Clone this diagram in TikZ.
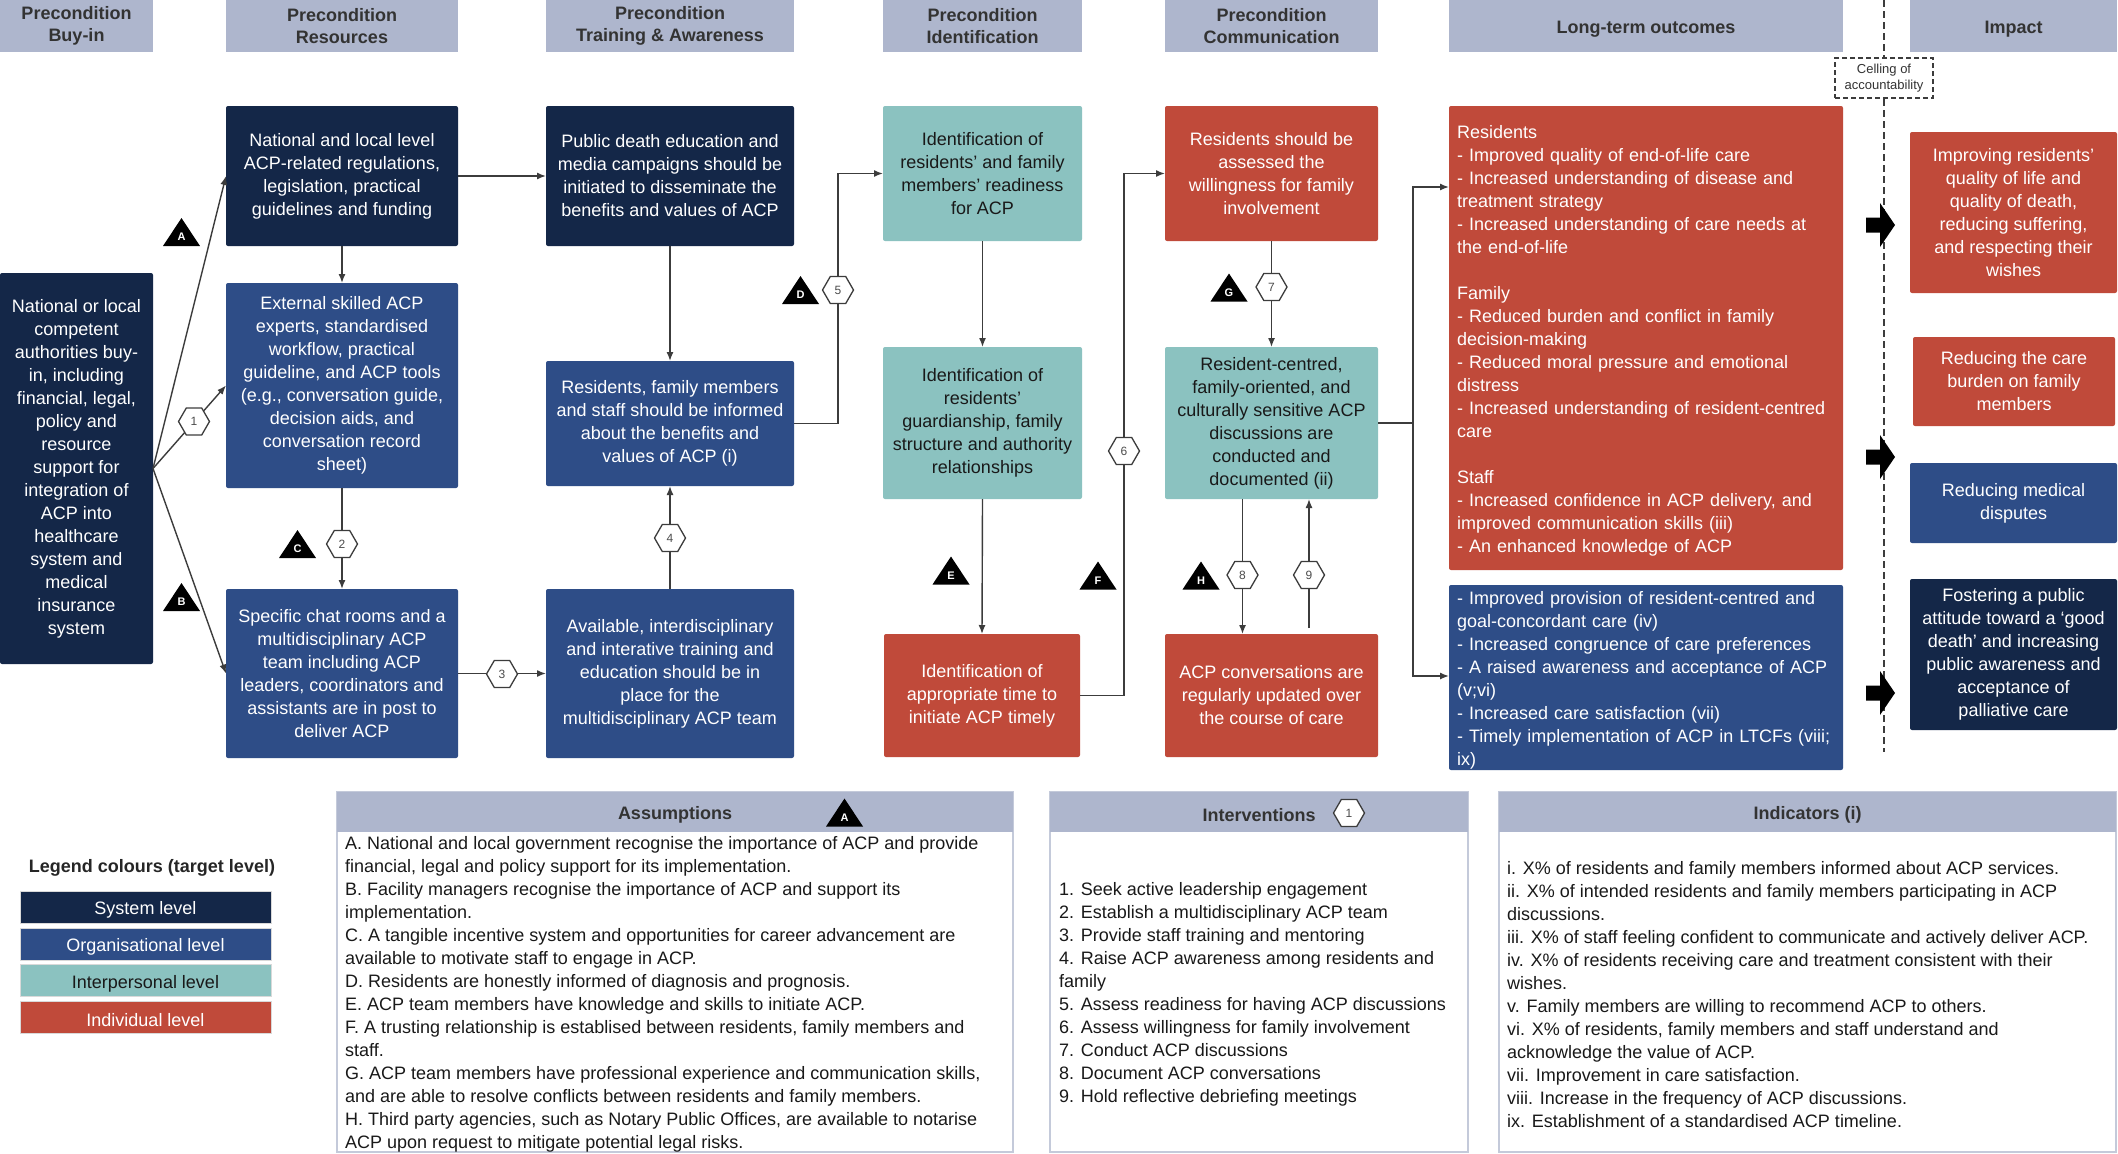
\documentclass[tikz,border=0pt]{standalone}
\usepackage{fontspec}
\setmainfont{Liberation Sans}
\usetikzlibrary{shapes.geometric,arrows.meta}
\definecolor{navy}{RGB}{20,39,72}
\definecolor{orgb}{RGB}{46,77,135}
\definecolor{tealb}{RGB}{139,194,192}
\definecolor{redb}{RGB}{192,74,58}
\definecolor{hdr}{RGB}{174,182,205}
\definecolor{lnc}{RGB}{60,60,60}
\definecolor{pnl}{RGB}{196,202,218}
\tikzset{
  wh/.style 2 args={minimum width=#1pt, minimum height=#2pt},
  txt/.style={font=\fontsize{18}{23}\selectfont},
  lowered/.style={execute at begin node={\rule{0pt}{19.5pt}}},
  basebox/.style={txt, inner sep=0pt, outer sep=0pt, align=center, rounded corners=2pt, lowered},
  sysbox/.style={basebox, fill=navy, text=white},
  orgbox/.style={basebox, fill=orgb, text=white},
  intbox/.style={basebox, fill=tealb, text=black!90},
  indbox/.style={basebox, fill=redb, text=white},
  hdrbox/.style={inner sep=0pt, outer sep=0pt, align=center, fill=hdr, text=black!80, font=\fontsize{18}{22.5}\selectfont\bfseries, lowered},
  arr/.style={draw=lnc, line width=1.4pt, -{Latex[length=9pt,width=7pt]}},
  hexn/.style={regular polygon, regular polygon sides=6, minimum size=31pt, inner sep=0pt, draw=lnc, line width=1.3pt, fill=white, text=black!70, font=\fontsize{12}{12}\selectfont},
  tri/.pic={\fill[black] (-18.5,14) -- (18.5,14) -- (0,-14) -- cycle;
            \node[inner sep=0pt, text=white, font=\fontsize{11}{11}\selectfont\bfseries] at (0,5) {#1};},
  blockarrow/.pic={\fill[black] (0,-7.5) -- (14,-7.5) -- (14,-22) -- (29,0) -- (14,22) -- (14,7.5) -- (0,7.5) -- cycle;},
  panel/.style={draw=pnl, line width=1.5pt, inner sep=0pt},
  ptext/.style={txt, inner sep=0pt, align=left, anchor=west, text=black!90},
}
\begin{document}
\begin{tikzpicture}[x=1pt,y=-1pt]
\fill[white] (0,0) rectangle (2118,1154);
\useasboundingbox (0,0) rectangle (2118,1154);

% headers
\node[hdrbox, wh={153}{52}] (hbuy) at (76.5,26) {Precondition\\Buy-in};
\node[hdrbox, wh={232}{52}] (hres) at (342,26) {Precondition\\Resources};
\node[hdrbox, wh={248}{52}] (htra) at (670,26) {Precondition\\Training \& Awareness};
\node[hdrbox, wh={199}{52}] (hide) at (982.5,26) {Precondition\\Identification};
\node[hdrbox, wh={213}{52}] (hcom) at (1271.5,26) {Precondition\\Communication};
\node[hdrbox, wh={394}{52}] (hlt) at (1646,26) {Long-term outcomes};
\node[hdrbox, wh={207}{52}] (himp) at (2013.5,26) {Impact};

% dashed ceiling line
\draw[lnc, line width=1.2pt, dash pattern=on 7pt off 4pt] (1884,0) -- (1884,752);
\node[draw=lnc, dash pattern=on 5pt off 3pt, line width=1.2pt, fill=white, wh={98}{40}, inner sep=0pt, align=center, font=\fontsize{13}{15.5}\selectfont, text=black!80] (ceil) at (1884,78) {Celling of\\accountability};

% boxes
\node[sysbox, wh={153}{391}] (buy) at (76.5,468.5) {National or local\\competent\\authorities buy-\\in, including\\financial, legal,\\policy and\\resource\\support for\\integration of\\ACP into\\healthcare\\system and\\medical\\insurance\\system};
\node[sysbox, wh={232}{140}] (r1) at (342,176) {National and local level\\ACP-related regulations,\\legislation, practical\\guidelines and funding};
\node[orgbox, wh={232}{205}] (r2) at (342,385.5) {External skilled ACP\\experts, standardised\\workflow, practical\\guideline, and ACP tools\\(e.g., conversation guide,\\decision aids, and\\conversation record\\sheet)};
\node[orgbox, wh={232}{169}] (r3) at (342,673.5) {Specific chat rooms and a\\multidisciplinary ACP\\team including ACP\\leaders, coordinators and\\assistants are in post to\\deliver ACP};
\node[sysbox, wh={248}{140}] (t1) at (670,176) {Public death education and\\media campaigns should be\\initiated to disseminate the\\benefits and values of ACP};
\node[orgbox, wh={248}{125}] (t2) at (670,423.5) {Residents, family members\\and staff should be informed\\about the benefits and\\values of ACP (i)};
\node[orgbox, wh={248}{169}] (t3) at (670,673.5) {Available, interdisciplinary\\and interative training and\\education should be in\\place for the\\multidisciplinary ACP team};
\node[intbox, wh={199}{135}] (i1) at (982.5,173.5) {Identification of\\residents' and family\\members' readiness\\for ACP};
\node[intbox, wh={199}{152}] (i2) at (982.5,423) {Identification of\\residents'\\guardianship, family\\structure and authority\\relationships};
\node[indbox, wh={196}{123}] (i3) at (982,695.5) {Identification of\\appropriate time to\\initiate ACP timely};
\node[indbox, wh={213}{135}] (c1) at (1271.5,173.5) {Residents should be\\assessed the\\willingness for family\\involvement};
\node[intbox, wh={213}{152}] (c2) at (1271.5,423) {Resident-centred,\\family-oriented, and\\culturally sensitive ACP\\discussions are\\conducted and\\documented (ii)};
\node[indbox, wh={213}{123}] (c3) at (1271.5,695.5) {ACP conversations are\\regularly updated over\\the course of care};
\node[indbox, wh={394}{464}, text width=378pt, align=left] (lt1) at (1646,338) {Residents\\- Improved quality of end-of-life care\\- Increased understanding of disease and\\treatment strategy\\- Increased understanding of care needs at\\the end-of-life\\[23pt]Family\\- Reduced burden and conflict in family\\decision-making\\- Reduced moral pressure and emotional\\distress\\- Increased understanding of resident-centred\\care\\[23pt]Staff\\- Increased confidence in ACP delivery, and\\improved communication skills (iii)\\- An enhanced knowledge of ACP};
\node[orgbox, wh={394}{185}, text width=378pt, align=left] (lt2) at (1646,677.5) {- Improved provision of resident-centred and\\goal-concordant care (iv)\\- Increased congruence of care preferences\\- A raised awareness and acceptance of ACP\\(v;vi)\\- Increased care satisfaction (vii)\\- Timely implementation of ACP in LTCFs (viii;\\ix)};
\node[indbox, wh={207}{161}] (m1) at (2013.5,212.5) {Improving residents’\\quality of life and\\quality of death,\\reducing suffering,\\and respecting their\\wishes};
\node[indbox, wh={202}{89}] (m2) at (2014,381.5) {Reducing the care\\burden on family\\members};
\node[orgbox, wh={207}{80}] (m3) at (2013.5,503) {Reducing medical\\disputes};
\node[sysbox, wh={207}{151}] (m4) at (2013.5,654.5) {Fostering a public\\attitude toward a ‘good\\death’ and increasing\\public awareness and\\acceptance of\\palliative care};

% block arrows
\pic at (1866,225) {blockarrow};
\pic at (1866,457) {blockarrow};
\pic at (1866,693) {blockarrow};

% connectors
\draw[arr] (buy.east) -- (r1.west);
\draw[arr] (buy.east) -- (r2.west);
\draw[arr] (buy.east) -- (r3.west);
\draw[arr] (r1.south) -- (r2.north);
\draw[arr] (r2.south) -- (r3.north);
\draw[arr] (r3.east) -- (t3.west);
\draw[arr] (r1.east) -- (t1.west);
\draw[arr] (t1.south) -- (t2.north);
\draw[arr] (t3.north) -- (t2.south);
\draw[arr] (t2.east) -- ++(44,0) |- (i1.west);
\draw[arr] (i1.south) -- (i2.north);
\draw[arr] (i2.south) -- (i3.north);
\draw[arr] (i3.east) -- ++(44,0) |- (c1.west);
\draw[arr] (c1.south) -- (c2.north);
\draw[arr] (c2.south -| 1242.5,0) -- (c3.north -| 1242.5,0);
\draw[arr, shorten <=6pt] (c3.north -| 1309,0) -- (c2.south -| 1309,0);
\draw[arr] (c2.east) -- ++(35,0) coordinate (jn) |- (lt1.west |- 0,187);
\draw[arr] (jn) |- (lt2.west |- 0,676);

% hexagons
\node[hexn] (h1) at (194,421.5) {1};
\node[hexn] (h2) at (342,544) {2};
\node[hexn] (h3) at (502,674) {3};
\node[hexn] (h4) at (670,538) {4};
\node[hexn] (h5) at (838,290) {5};
\node[hexn] (h6) at (1124,451) {6};
\node[hexn] (h7) at (1271.5,287) {7};
\node[hexn] (h8) at (1242.5,575) {8};
\node[hexn] (h9) at (1309,575) {9};

% triangles
\pic at (181.5,232) {tri=A};
\pic at (181.5,597) {tri=B};
\pic at (297.5,544) {tri=C};
\pic at (800.5,290) {tri=D};
\pic at (951,570.5) {tri=E};
\pic at (1098,575.5) {tri=F};
\pic at (1229,287.5) {tri=G};
\pic at (1201,575.5) {tri=H};

% legend
\node[txt, font=\fontsize{18}{23}\selectfont\bfseries, text=black!85, inner sep=0pt] (legt) at (152,868) {Legend colours (target level)};
\node[sysbox, rounded corners=0pt, draw=black!15, wh={251}{32}] (lg1) at (145.5,907) {System level};
\node[orgbox, rounded corners=0pt, draw=black!15, wh={251}{32}] (lg2) at (145.5,944) {Organisational level};
\node[intbox, rounded corners=0pt, draw=black!15, wh={251}{32}] (lg3) at (145.5,980.5) {Interpersonal level};
\node[indbox, rounded corners=0pt, draw=black!15, wh={251}{32}] (lg4) at (145.5,1017) {Individual level};

% panels
\node[panel, wh={676}{360}] (asm) at (675,972) {};
\node[hdrbox, wh={676}{40}] (asmh) at (675,812) {Assumptions};
\pic at (844.5,812.5) {tri=A};
\node[ptext] (asmt) at (345,994) {A. National and local government recognise the importance of ACP and provide\\financial, legal and policy support for its implementation.\\B. Facility managers recognise the importance of ACP and support its\\implementation.\\C. A tangible incentive system and opportunities for career advancement are\\available to motivate staff to engage in ACP.\\D. Residents are honestly informed of diagnosis and prognosis.\\E. ACP team members have knowledge and skills to initiate ACP.\\F. A trusting relationship is establised between residents, family members and\\staff.\\G. ACP team members have professional experience and communication skills,\\and are able to resolve conflicts between residents and family members.\\H. Third party agencies, such as Notary Public Offices, are available to notarise\\ACP upon request to mitigate potential legal risks.};

\node[panel, wh={418}{360}] (itv) at (1259,972) {};
\node[hdrbox, wh={418}{40}] (itvh) at (1259,812) {Interventions};
\node[hexn] (hleg) at (1349,813) {1};
\node[ptext] (itvt) at (1059,994) {1. Seek active leadership engagement\\2. Establish a multidisciplinary ACP team\\3. Provide staff training and mentoring\\4. Raise ACP awareness among residents and\\family\\5. Assess readiness for having ACP discussions\\6. Assess willingness for family involvement\\7. Conduct ACP discussions\\8. Document ACP conversations\\9. Hold reflective debriefing meetings};

\node[panel, wh={617}{360}] (ind) at (1807.5,972) {};
\node[hdrbox, wh={617}{40}] (indh) at (1807.5,812) {Indicators (i)};
\node[ptext] (indt) at (1507,994.5) {i. X\% of residents and family members informed about ACP services.\\ii. X\% of intended residents and family members participating in ACP\\discussions.\\iii. X\% of staff feeling confident to communicate and actively deliver ACP.\\iv. X\% of residents receiving care and treatment consistent with their\\wishes.\\v. Family members are willing to recommend ACP to others.\\vi. X\% of residents, family members and staff understand and\\acknowledge the value of ACP.\\vii. Improvement in care satisfaction.\\viii. Increase in the frequency of ACP discussions.\\ix. Establishment of a standardised ACP timeline.};
\end{tikzpicture}
\end{document}
